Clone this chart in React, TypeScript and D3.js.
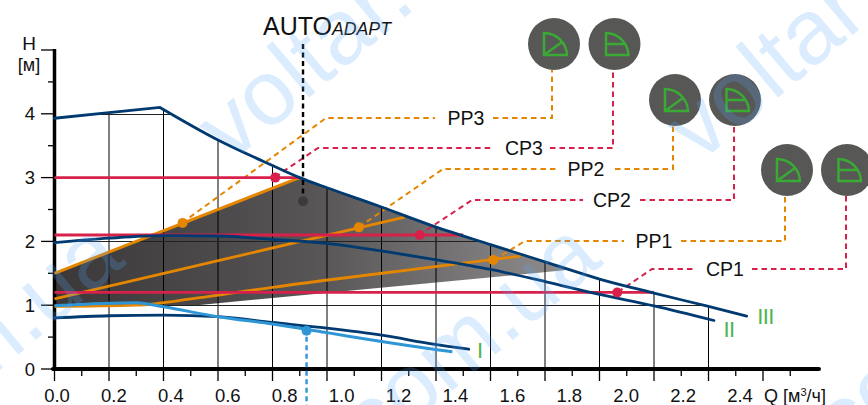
import React from "react";
import * as d3 from "d3";

const W = 868, H = 405;
const curveIIIa: [number, number][] = [[0,3.93],[0.2,4.02],[0.387,4.1]];
const curveIIIb: [number, number][] = [[0.387,4.1],[0.6,3.59],[0.8,3.19],[0.9,3.0],[1.0,2.84],[1.18,2.57],[1.39,2.24],[1.6,1.95],[1.8,1.68],[2.0,1.41],[2.2,1.19],[2.4,0.98],[2.54,0.83]];
const curveII: [number, number][] = [[0,1.98],[0.2,2.05],[0.4,2.09],[0.6,2.085],[0.8,2.03],[1.0,1.97],[1.2,1.85],[1.39,1.72],[1.6,1.56],[1.8,1.37],[2.0,1.17],[2.2,0.99],[2.42,0.76]];
const curveI: [number, number][] = [[0,0.8],[0.2,0.835],[0.4,0.845],[0.6,0.82],[0.8,0.73],[1.0,0.64],[1.2,0.53],[1.39,0.39],[1.52,0.31]];
const curveAuto: [number, number][] = [[0,0.99],[0.2,1.03],[0.3,1.04],[0.4,0.975],[0.6,0.82],[0.8,0.705],[1.0,0.57],[1.2,0.43],[1.39,0.31],[1.46,0.27]];
const shadedUpper: [number, number][] = [[0.9,3.0],[1.0,2.84],[1.18,2.57],[1.39,2.24],[1.6,1.95],[1.8,1.68],[1.88,1.57]];
const shadedLower: [number, number][] = [[1.88,1.55],[0.523,1.0],[0,1.0],[0,1.5]];
const pp3: [number, number][] = [[0,1.5],[0.9,3.0]];
const pp2: [number, number][] = [[0,1.1],[1.285,2.38]];
const pp1: [number, number][] = [[0,0.98],[0.3,1.0],[0.52,1.11],[0.8,1.28],[1.39,1.6],[1.71,1.77]];
const redLines: [number, number, number][] = [[3,0,0.9],[2.1,0,1.5],[1.2,0,2.2]];
const redDots: [number, number][] = [[0.81,3.0],[1.34,2.1],[2.065,1.2]];
const orangeDots: [number, number][] = [[0.47,2.29],[1.117,2.22],[1.61,1.71]];
const blueDot: [number, number] = [0.925,0.6];
const autoDot: [number, number] = [0.912,2.63];
const xLabels = ["0.0","0.2","0.4","0.6","0.8","1.0","1.2","1.4","1.6","1.8","2.0","2.2","2.4"];
const yLabels = [0,1,2,3,4];
const xGridVals = [0.2,0.4,0.6,0.8,1.0,1.2,1.4,1.6,1.8,2.0,2.2,2.4];
const hGridVals = [1,2,3,4];
const xTickVals = d3.range(0,28).map(i => i/10);
const yTickVals = d3.range(0,11).map(i => i/2);

const ORANGE = "#e58600", RED = "#d7214b", NAVY = "#003a70", LBLUE = "#2f96d6", GREEN = "#3aaa35";
const leaders: { name: string; c: string; lx: number; ly: number; a: [number,number][]; b: [number,number][] }[] = [
  { name:"PP3", c:ORANGE, lx:466, ly:118, a:[[182,223],[326,118],[435,118]], b:[[493,118],[552,118],[552,70]] },
  { name:"CP3", c:RED, lx:524, ly:148, a:[[275,177],[318,148],[494,148]], b:[[550,148],[613,148],[613,70]] },
  { name:"PP2", c:ORANGE, lx:586, ly:169, a:[[359,227],[443,169],[557,169]], b:[[615,169],[673,169],[673,126]] },
  { name:"CP2", c:RED, lx:612, ly:200, a:[[419,235],[472,200],[583,200]], b:[[640,200],[734,200],[734,126]] },
  { name:"PP1", c:ORANGE, lx:654, ly:241, a:[[494,260],[525,241],[624,241]], b:[[681,241],[785,241],[785,196]] },
  { name:"CP1", c:RED, lx:725, ly:269, a:[[618,292],[652,269],[695,269]], b:[[752,269],[846,269],[846,196]] },
];
const badges: { x: number; y: number; kind: string }[] = [
  {x:554,y:44,kind:"pp"},{x:614.5,y:44,kind:"cp"},{x:675,y:100,kind:"pp"},{x:735,y:100,kind:"cp"},{x:787,y:170,kind:"pp"},{x:847,y:170,kind:"cp"},
];
const watermarks: { t: string; x: number; y: number }[] = [
  { t:"voltar.com.ua", x:-292, y:615 },
  { t:"voltar.com.ua", x:185, y:615 },
  { t:"voltar.com.ua", x:657, y:615 },
  { t:"voltar.com.ua", x:230, y:164 },
  { t:"voltar.com.ua", x:699, y:164 },
];

const x = d3.scaleLinear().domain([0,1]).range([54.5,327]);
const y = d3.scaleLinear().domain([0,5]).range([369,50]);
const xLab = d3.scaleLinear().domain([0,12]).range([57,740]);
const line = d3.line<[number,number]>().x(d=>x(d[0])).y(d=>y(d[1]));
const smooth = d3.line<[number,number]>().x(d=>x(d[0])).y(d=>y(d[1])).curve(d3.curveMonotoneX);
const curveIIIPath = smooth(curveIIIa)! + smooth(curveIIIb)!.replace(/^M/, "L");
const underIII = curveIIIPath + `L${x(2.54)},${y(0)}L${x(0)},${y(0)}Z`;
const shaded = smooth(shadedUpper)! + "L" + shadedLower.map(d=>`${x(d[0])},${y(d[1])}`).join("L") + "Z";
const pagePath = d3.line<[number,number]>();
const font = "'Liberation Sans', Arial, sans-serif";

export default function App() {
  return (
    <svg width={W} height={H} viewBox={`0 0 ${W} ${H}`} style={{position:"absolute",left:0,top:0,display:"block",fontFamily:font}}>
      <defs>
        <clipPath id="under"><path d={underIII}/></clipPath>
        <linearGradient id="shade" gradientUnits="userSpaceOnUse" x1={x(0)} x2={x(1.88)} y1="0" y2="0">
          <stop offset="0" stopColor="#3a3838"/>
          <stop offset="0.5" stopColor="#565454"/>
          <stop offset="0.76" stopColor="#737172"/>
          <stop offset="1" stopColor="#8e8c8d"/>
        </linearGradient>
      </defs>
      <rect width={W} height={H} fill="#fff"/>
      <path d={shaded} fill="url(#shade)"/>
      <g clipPath="url(#under)" stroke="#000" strokeWidth={1} fill="none">
        {xGridVals.map(v=><line key={v} x1={x(v)} x2={x(v)} y1={y(0)} y2={y(5)}/>)}
        {hGridVals.map(v=><line key={v} x1={x(0)} x2={x(2.7)} y1={Math.round(y(v))+0.5} y2={Math.round(y(v))+0.5} stroke="#222"/>)}
      </g>
      {/* axes */}
      <g stroke="#000" fill="none">
        <line x1={54.5} x2={54.5} y1={49} y2={371} strokeWidth={3.5}/>
        <line x1={53} x2={819} y1={369} y2={369} strokeWidth={4} strokeLinecap="round"/>
        {yTickVals.map(v=><line key={v} x1={Number.isInteger(v)?41:48} x2={54} y1={y(v)} y2={y(v)} strokeWidth={1.3}/>)}
        {xTickVals.map((v,i)=><line key={v} x1={x(v)} x2={x(v)} y1={369} y2={i%2===0?381:376} strokeWidth={1.3}/>)}
      </g>
      <g fontSize={18.5} fill="#111">
        {yLabels.map(v=><text key={v} x={30} y={y(v)+6.5} textAnchor="middle">{v}</text>)}
        {xLabels.map((t,i)=><text key={t} x={xLab(i)} y={402} textAnchor="middle">{t}</text>)}
        <text x={29} y={50} textAnchor="middle" fontSize={19}>H</text>
        <text x={29} y={71} textAnchor="middle" fontSize={18}>[м]</text>
        <text x={764} y={402} fontSize={18}>Q <tspan>[м</tspan><tspan fontSize={11} dy={-6}>3</tspan><tspan dy={6}>/ч]</tspan></text>
      </g>
      {/* leaders */}
      <g fill="none" strokeWidth={2} strokeDasharray="5.5 4">
        {leaders.map(l=>(
          <g key={l.name} stroke={l.c}>
            <path d={pagePath(l.a)!}/>
            <path d={pagePath(l.b)!}/>
          </g>
        ))}
      </g>
      <g fontSize={19.5} fill="#111" textAnchor="middle">
        {leaders.map(l=><text key={l.name} x={l.lx} y={l.ly+7}>{l.name}</text>)}
      </g>
      {/* control lines */}
      <path d={line(pp3)!} fill="none" stroke={ORANGE} strokeWidth={3}/>
      <path d={line(pp2)!} fill="none" stroke={ORANGE} strokeWidth={2.8}/>
      <path d={smooth(pp1)!} fill="none" stroke={ORANGE} strokeWidth={2.8}/>
      {redLines.map(r=><line key={r[0]} x1={x(r[1])} x2={x(r[2])} y1={y(r[0])} y2={y(r[0])} stroke={RED} strokeWidth={2.8}/>)}
      {/* pump curves */}
      <path d={smooth(curveI)!} fill="none" stroke={NAVY} strokeWidth={2.8} strokeLinecap="round"/>
      <path d={smooth(curveII)!} fill="none" stroke={NAVY} strokeWidth={2.8} strokeLinecap="round"/>
      <path d={curveIIIPath} fill="none" stroke={NAVY} strokeWidth={2.8} strokeLinecap="round"/>
      <path d={smooth(curveAuto)!} fill="none" stroke={LBLUE} strokeWidth={3}/>
      {/* dots */}
      {redDots.map((d,i)=><circle key={i} cx={x(d[0])} cy={y(d[1])} r={5} fill={RED}/>)}
      {orangeDots.map((d,i)=><circle key={i} cx={x(d[0])} cy={y(d[1])} r={5} fill={ORANGE}/>)}
      <circle cx={x(blueDot[0])} cy={y(blueDot[1])} r={5} fill={LBLUE}/>
      <line x1={x(blueDot[0])} x2={x(blueDot[0])} y1={y(blueDot[1])+6} y2={405} stroke={LBLUE} strokeWidth={2.4} strokeDasharray="5 3.5"/>
      <line x1={x(autoDot[0])} x2={x(autoDot[0])} y1={44} y2={y(autoDot[1])} stroke="#000" strokeWidth={2.4} strokeDasharray="5 3.5"/>
      <circle cx={x(autoDot[0])} cy={y(autoDot[1])} r={5} fill="#3c3a3a"/>
      <text x={263} y={35} fontSize={25} fill="#111">AUTO<tspan fontSize={17.7} fontStyle="italic">ADAPT</tspan></text>
      {/* badges */}
      {badges.map((b,i)=>(
        <g key={i} transform={`translate(${b.x},${b.y})`}>
          <circle r={26} fill="#575756"/>
          {b.kind==="pp"
            ? <path d="M-10,-11 L-10,11 L13,11 A23,23 0 0 0 -10,-11 Z M-10,11 L8,-2" fill="none" stroke={GREEN} strokeWidth={2.5}/>
            : <path d="M-8.5,-11 L-8.5,11 L14,11 A23,23 0 0 0 -8.5,-11 Z M-8.5,0 L10,0" fill="none" stroke={GREEN} strokeWidth={2.5}/>}
        </g>
      ))}
      <g fontSize={22} fill="#4cb450" textAnchor="middle">
        <text x={480} y={358}>I</text>
        <text x={729} y={337} letterSpacing={-0.5}>II</text>
        <text x={765.5} y={324} letterSpacing={-0.6}>III</text>
      </g>
      {watermarks.map((w,i)=>(
        <text key={i} transform={`translate(${w.x},${w.y}) rotate(-40)`} fontSize={92} fill="#5aa9ff" fillOpacity={0.22}>{w.t}</text>
      ))}
    </svg>
  );
}
